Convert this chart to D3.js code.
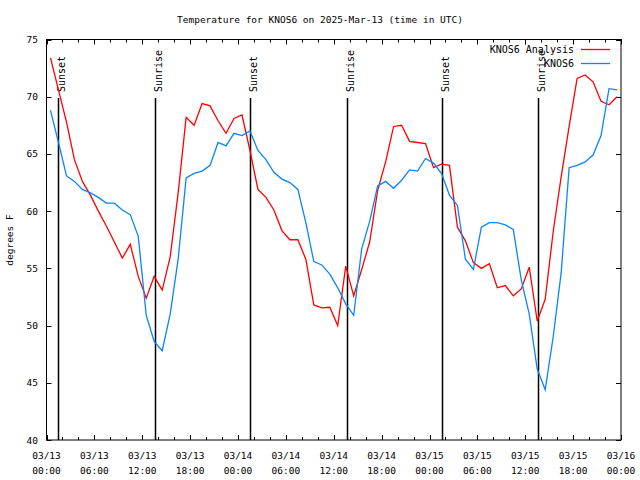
<!DOCTYPE html>
<html>
<head>
<meta charset="utf-8">
<script src="https://cdn.jsdelivr.net/npm/d3@7"></script>
<style>
  html, body { margin: 0; padding: 0; background: #fff; }
  svg { display: block; }
  text { font-family: "DejaVu Sans Mono", monospace; fill: #000; }
</style>
</head>
<body>
<svg id="chart" width="640" height="480"></svg>
<script>
// ---- data ----
const titleText = "Temperature for KNOS6 on 2025-Mar-13 (time in UTC)";
const yLabel = "degrees F";
const seriesNames = ["KNOS6 Analysis", "KNOS6"];
const seriesColors = ["#ff0000", "#0a84ff"];
const firstTime = "2025-03-13T00:30:00Z"; // first hourly sample
const analysisTemps = [
  73.4, 70.6, 67.8, 64.5, 62.6, 61.4, 60.0, 58.7, 57.3, 55.9, 57.1, 54.3,
  52.4, 54.3, 53.1, 56.0, 61.6, 68.2, 67.5, 69.4, 69.2, 67.9, 66.8, 68.1,
  68.4, 65.3, 61.9, 61.2, 60.1, 58.3, 57.5, 57.5, 55.8, 51.8, 51.55, 51.6,
  50.0, 55.2, 52.6, 54.9, 57.3, 61.8, 64.3, 67.4, 67.5, 66.1, 66.0, 65.9,
  63.8, 64.1, 64.0, 58.6, 57.4, 55.5, 55.0, 55.4, 53.3, 53.5, 52.6, 53.2,
  55.1, 50.4, 52.3, 58.2, 63.0, 67.4, 71.6, 71.9, 71.3, 69.6, 69.3, 70.0
];
const obsTemps = [
  68.8, 66.0, 63.1, 62.6, 61.9, 61.6, 61.2, 60.7, 60.7, 60.1, 59.7, 57.8,
  50.9, 48.6, 47.8, 51.0, 55.8, 62.9, 63.3, 63.5, 64.0, 66.0, 65.7, 66.8,
  66.6, 67.0, 65.3, 64.5, 63.4, 62.8, 62.5, 61.9, 59.0, 55.6, 55.3, 54.5,
  53.3, 51.9, 50.9, 56.7, 59.1, 62.2, 62.6, 62.0, 62.7, 63.6, 63.5, 64.6,
  64.2, 63.3, 61.4, 60.5, 55.8, 54.9, 58.6, 59.0, 59.0, 58.8, 58.4, 54.0,
  51.0, 46.2, 44.4, 49.0, 54.6, 63.8, 64.0, 64.3, 64.9, 66.6, 70.7, 70.6
];
const sunLabels = ["Sunset", "Sunrise", "Sunset", "Sunrise", "Sunset", "Sunrise"];
const sunTimes = [
  "2025-03-13T01:29:00Z", "2025-03-13T13:38:00Z",
  "2025-03-14T01:32:00Z", "2025-03-14T13:42:00Z",
  "2025-03-15T01:32:00Z", "2025-03-15T13:38:00Z"
];
const yTicks = [40, 45, 50, 55, 60, 65, 70, 75];
const xDomain = ["2025-03-13T00:00:00Z", "2025-03-16T00:00:00Z"];

// ---- layout ----
const pL = 46.5, pR = 621, pT = 39.5, pB = 440;
const svg = d3.select("#chart");
svg.append("rect").attr("width", 640).attr("height", 480).attr("fill", "#fff");

const t0 = new Date(firstTime);
const times = analysisTemps.map((_, i) => new Date(t0.getTime() + i * 3600e3));

const x = d3.scaleUtc().domain(xDomain.map(d => new Date(d))).range([pL, pR]);
const y = d3.scaleLinear().domain([40, 75]).range([pB, pT]);

const endPlus = new Date(x.domain()[1].getTime() + 1);
const majorTicks = d3.utcHour.every(6).range(x.domain()[0], endPlus);
const minorTicks = d3.utcHour.every(2).range(x.domain()[0], endPlus);
const fmtDate = d3.utcFormat("%m/%d"), fmtTime = d3.utcFormat("%H:%M");

const g = svg.append("g");
const px = d => Math.round(x(d)) + 0.5;
// x ticks (inward, bottom and top)
[[minorTicks, 3], [majorTicks, 5]].forEach(([arr, len]) => {
  g.selectAll(null).data(arr).enter().append("line")
    .attr("x1", px).attr("x2", px).attr("y1", pB).attr("y2", pB - len).attr("stroke", "#000");
  g.selectAll(null).data(arr).enter().append("line")
    .attr("x1", px).attr("x2", px).attr("y1", pT).attr("y2", pT + len).attr("stroke", "#000");
});
// y ticks
const py = d => Math.round(y(d)) + 0.5;
g.selectAll(null).data(yTicks).enter().append("line")
  .attr("x1", pL).attr("x2", pL + 5).attr("y1", py).attr("y2", py).attr("stroke", "#000");
g.selectAll(null).data(yTicks).enter().append("line")
  .attr("x1", pR).attr("x2", pR - 5).attr("y1", py).attr("y2", py).attr("stroke", "#000");

// tick labels
g.selectAll(null).data(yTicks).enter().append("text")
  .attr("x", 38).attr("y", d => y(d) + 3.5).attr("text-anchor", "end")
  .attr("font-size", 9.5).text(d => d);
const xl = g.selectAll(null).data(majorTicks).enter().append("text")
  .attr("text-anchor", "middle").attr("font-size", 9.5);
xl.append("tspan").attr("x", d => x(d)).attr("y", 459).text(d => fmtDate(d));
xl.append("tspan").attr("x", d => x(d)).attr("y", 474).text(d => fmtTime(d));

// sunrise / sunset
sunTimes.forEach((s, i) => {
  const sx = Math.round(x(new Date(s))) + 0.5;
  g.append("line").attr("x1", sx).attr("x2", sx).attr("y1", 98).attr("y2", pB)
    .attr("stroke", "#000").attr("stroke-width", 1.5);
  g.append("text").attr("transform", `translate(${sx + 6},92) rotate(-90)`)
    .attr("font-size", 10).attr("text-anchor", "start").text(sunLabels[i]);
});

// lines
const lineGen = vals => d3.line().x((d, i) => x(times[i])).y(d => y(d))(vals);
g.append("path").attr("d", lineGen(analysisTemps)).attr("fill", "none")
  .attr("stroke", seriesColors[0]).attr("stroke-width", 1.3);
g.append("path").attr("d", lineGen(obsTemps)).attr("fill", "none")
  .attr("stroke", seriesColors[1]).attr("stroke-width", 1.3);

// frame border
g.append("rect").attr("x", pL).attr("y", pT).attr("width", pR - pL).attr("height", pB - pT)
  .attr("fill", "none").attr("stroke", "#000").attr("stroke-width", 1);

// legend
seriesNames.forEach((n, i) => {
  const ly = 49 + i * 14;
  g.append("text").attr("x", 574).attr("y", ly + 3.5).attr("text-anchor", "end")
    .attr("font-size", 10).text(n);
  g.append("line").attr("x1", 581).attr("x2", 610).attr("y1", ly + 0.5).attr("y2", ly + 0.5)
    .attr("stroke", seriesColors[i]).attr("stroke-width", 1.3);
});

// title and axis label
svg.append("text").attr("x", 320).attr("y", 23).attr("text-anchor", "middle")
  .attr("font-size", 9.5).text(titleText);
svg.append("text").attr("transform", "translate(13,240) rotate(-90)").attr("text-anchor", "middle")
  .attr("font-size", 9.5).text(yLabel);
</script>
</body>
</html>
